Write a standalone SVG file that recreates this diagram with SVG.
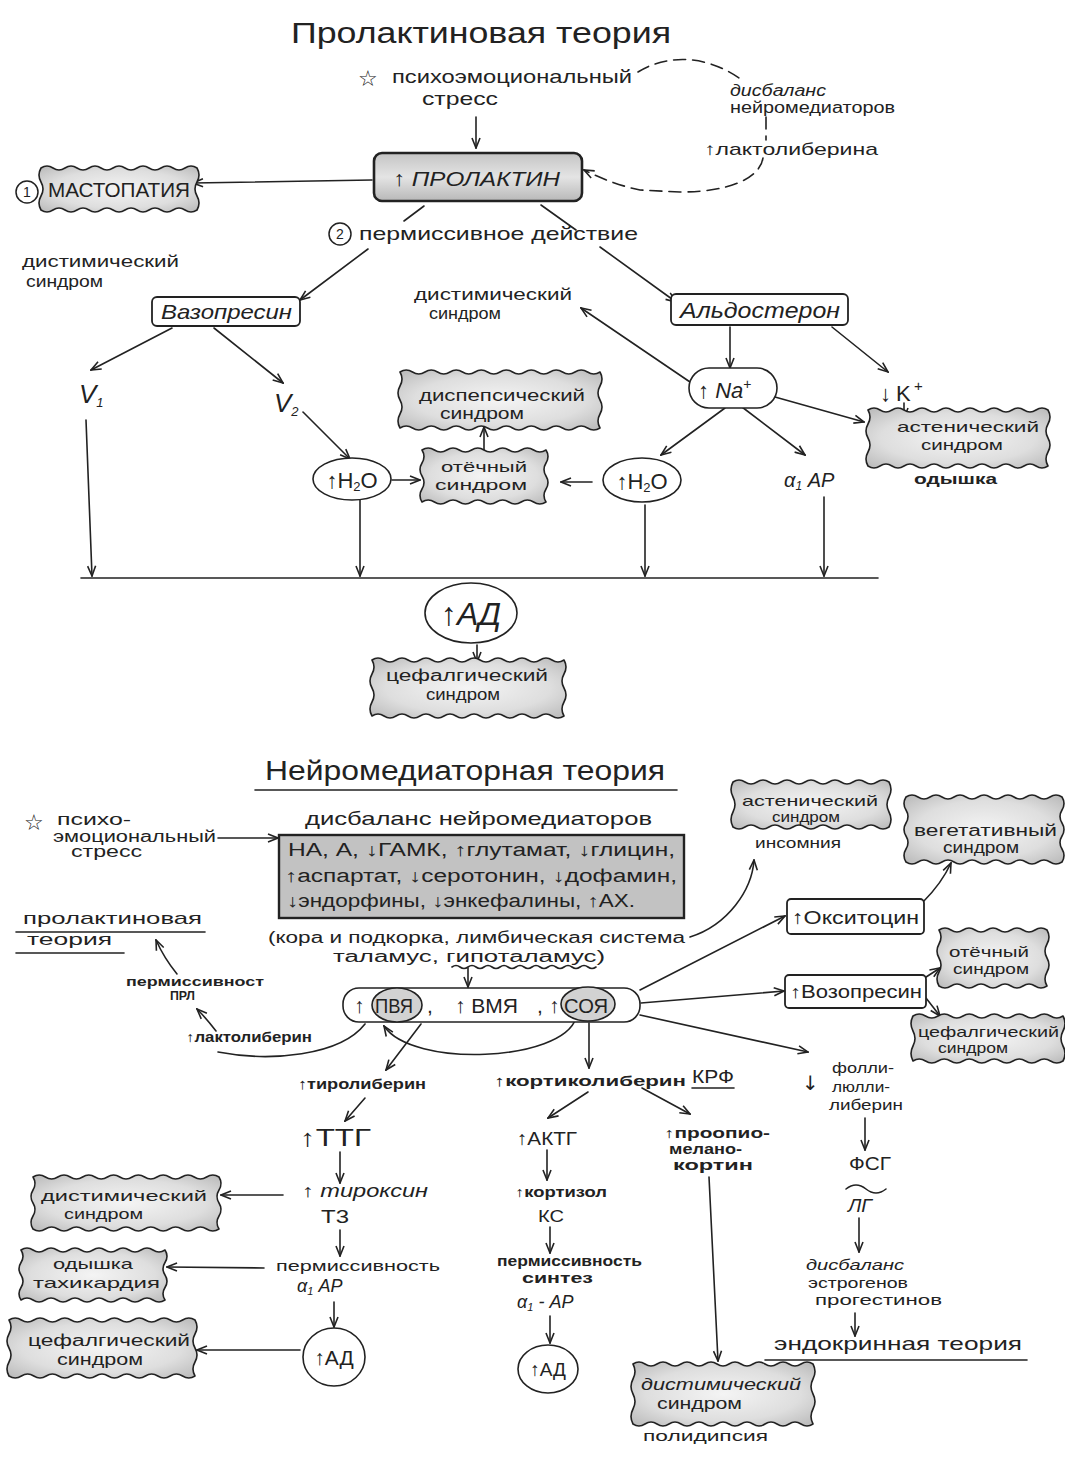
<svg xmlns="http://www.w3.org/2000/svg" width="1065" height="1461" viewBox="0 0 1065 1461">
<defs>
<style>
.t{font-family:"Liberation Sans","DejaVu Sans",sans-serif;fill:#222}
.i{font-style:italic}
.b{font-weight:bold}
.st{font-family:"DejaVu Sans",sans-serif;fill:#222}
.ln{fill:none;stroke:#222;stroke-width:1.6;stroke-linecap:round}
.ar{marker-end:url(#ah)}
.ds{stroke-dasharray:12 7}
.cl{fill:url(#cg);stroke:#222;stroke-width:1.6;stroke-linejoin:round}
.bx{fill:#fff;stroke:#222;stroke-width:1.8}
.ov{fill:#fff;stroke:#222;stroke-width:1.6}
</style>
<radialGradient id="cg" cx="50%" cy="50%" r="70%"><stop offset="0" stop-color="#f4f4f4"/><stop offset="0.6" stop-color="#dedede"/><stop offset="1" stop-color="#b8b8b8"/></radialGradient>
<linearGradient id="pg" x1="0" y1="0" x2="0" y2="1"><stop offset="0" stop-color="#c4c4c4"/><stop offset="0.5" stop-color="#e4e4e4"/><stop offset="1" stop-color="#b8b8b8"/></linearGradient>
<marker id="ah" viewBox="0 0 12 10" refX="11" refY="5" markerWidth="12" markerHeight="10" markerUnits="userSpaceOnUse" orient="auto"><path d="M1,1 L11,5 L1,9" fill="none" stroke="#222" stroke-width="1.6"/></marker>
</defs>
<rect width="1065" height="1461" fill="#fff"/>

<g id="connectors">
<path class="ln ar" d="M476,117 V148"/>
<path class="ln ds" d="M638,72 C660,58 700,50 742,80"/>
<path class="ln ds" d="M766,117 V140"/>
<path class="ln ds ar" d="M763,158 C760,178 730,192 680,192 L640,190 C620,186 600,178 584,170"/>
<path class="ln ar" d="M372,180 L193,183"/>
<path class="ln" d="M424,206 L404,221"/>
<path class="ln ar" d="M368,249 L300,300"/>
<path class="ln" d="M541,205 L576,230"/>
<path class="ln ar" d="M600,247 L676,302"/>
<path class="ln ar" d="M172,328 L91,370"/>
<path class="ln ar" d="M214,328 L283,383"/>
<path class="ln ar" d="M303,412 L350,459"/>
<path class="ln ar" d="M392,480 L420,480"/>
<path class="ln ar" d="M484,455 V427"/>
<path class="ln ar" d="M592,482 L561,482"/>
<path class="ln ar" d="M730,327 V368"/>
<path class="ln ar" d="M832,327 L888,372"/>
<path class="ln ar" d="M690,382 L581,308"/>
<path class="ln ar" d="M775,397 L864,422"/>
<path class="ln ar" d="M725,408 L661,455"/>
<path class="ln ar" d="M742,407 L805,455"/>
<path class="ln ar" d="M904,403 V418"/>
<path class="ln ar" d="M86,420 L92,576"/>
<path class="ln ar" d="M360,500 V576"/>
<path class="ln ar" d="M645,505 V576"/>
<path class="ln ar" d="M824,497 V576"/>
<path class="ln" d="M81,578 H878"/>
<path class="ln ar" d="M477,645 V662"/>
<path class="ln ar" d="M218,838 H278"/>
<path class="ln ar" d="M468,968 V987"/>
<path class="ln ar" d="M690,937 C728,925 752,890 754,860"/>
<path class="ln ar" d="M640,990 L785,916"/>
<path class="ln ar" d="M641,1003 L784,991"/>
<path class="ln ar" d="M640,1015 L808,1052"/>
<path class="ln ar" d="M923,902 C935,890 945,876 951,863"/>
<path class="ln ar" d="M923,979 L940,968"/>
<path class="ln ar" d="M926,998 L940,1016"/>
<path class="ln ar" d="M421,1024 L386,1070"/>
<path class="ln ar" d="M589,1023 V1068"/>
<path class="ln ar" d="M576,1018 C562,1062 412,1068 384,1026"/>
<path class="ln" d="M365,1024 C340,1056 270,1062 218,1052"/>
<path class="ln ar" d="M216,1031 Q206,1018 197,1009"/>
<path class="ln ar" d="M177,974 Q164,958 156,940"/>
<path class="ln ar" d="M365,1098 L345,1121"/>
<path class="ln ar" d="M340,1152 V1183"/>
<path class="ln ar" d="M340,1230 V1256"/>
<path class="ln ar" d="M334,1302 V1327"/>
<path class="ln ar" d="M283,1195 H221"/>
<path class="ln ar" d="M264,1268 L167,1267"/>
<path class="ln ar" d="M300,1350 H197"/>
<path class="ln ar" d="M588,1092 L548,1118"/>
<path class="ln ar" d="M642,1088 L690,1114"/>
<path class="ln ar" d="M547,1150 V1180"/>
<path class="ln ar" d="M550,1227 V1253"/>
<path class="ln ar" d="M550,1316 V1343"/>
<path class="ln ar" d="M709,1177 L718,1361"/>
<path class="ln ar" d="M865,1118 V1150"/>
<path class="ln ar" d="M859,1218 V1252"/>
<path class="ln ar" d="M855,1313 V1336"/>
</g>

<g id="titles">
<text class="t" x="291" y="43" font-size="30" textLength="380" lengthAdjust="spacingAndGlyphs">Пролактиновая теория</text>
<text class="t" x="265" y="780" font-size="27" textLength="400" lengthAdjust="spacingAndGlyphs">Нейромедиаторная теория</text>
<path class="ln" d="M255,790 H677"/>
</g>

<g id="stress-top">
<text class="st" x="358" y="86" font-size="22">☆</text>
<text class="t" x="392" y="83" font-size="19" textLength="240" lengthAdjust="spacingAndGlyphs">психоэмоциональный</text>
<text class="t" x="422" y="105" font-size="19" textLength="76" lengthAdjust="spacingAndGlyphs">стресс</text>
</g>

<g id="disbalance-top">
<text class="t i" x="730" y="96" font-size="16" textLength="96" lengthAdjust="spacingAndGlyphs">дисбаланс</text>
<text class="t" x="730" y="113" font-size="16" textLength="165" lengthAdjust="spacingAndGlyphs">нейромедиаторов</text>
</g>

<g id="lactoliberin-top">
<text class="t" x="704" y="155" font-size="17" textLength="174" lengthAdjust="spacingAndGlyphs">↑лактолиберина</text>
</g>

<g id="prolactin">
<rect x="374" y="153" width="208" height="48" rx="8" fill="url(#pg)" stroke="#222" stroke-width="2.6"/>
<text class="t i" x="393" y="186" font-size="21" textLength="167" lengthAdjust="spacingAndGlyphs">↑ ПРОЛАКТИН</text>
</g>

<g id="mastopathy">
<circle cx="27" cy="192" r="11" fill="#fff" stroke="#222" stroke-width="1.5"/>
<text class="t" x="27" y="197" font-size="14" text-anchor="middle">1</text>
<path class="cl" d="M41,168q6,-4 12,0t12,0 12,0 12,0 12,0 12,0 12,0 12,0 12,0 12,0 12,0 12,0 12,0q4,7 0,14t0,14 0,14q-6,4 -12,0t-12,0 -12,0 -12,0 -12,0 -12,0 -12,0 -12,0 -12,0 -12,0 -12,0 -12,0 -12,0q-4,-7 0,-14t0,-14 0,-14z"/>
<text class="t" x="48" y="197" font-size="20" textLength="142" lengthAdjust="spacingAndGlyphs">МАСТОПАТИЯ</text>
</g>

<g id="permissive-label">
<circle cx="340" cy="234" r="11" fill="#fff" stroke="#222" stroke-width="1.5"/>
<text class="t" x="340" y="239" font-size="14" text-anchor="middle">2</text>
<text class="t" x="359" y="240" font-size="19" textLength="279" lengthAdjust="spacingAndGlyphs">пермиссивное действие</text>
</g>

<g id="dysthymic-left">
<text class="t" x="22" y="267" font-size="16" textLength="157" lengthAdjust="spacingAndGlyphs">дистимический</text>
<text class="t" x="26" y="287" font-size="16" textLength="77" lengthAdjust="spacingAndGlyphs">синдром</text>
</g>

<g id="vasopressin">
<rect class="bx" x="152" y="297" width="148" height="29" rx="5"/>
<text class="t i" x="161" y="319" font-size="21" textLength="131" lengthAdjust="spacingAndGlyphs">Вазопресин</text>
</g>

<g id="dysthymic-mid">
<text class="t" x="414" y="300" font-size="16" textLength="158" lengthAdjust="spacingAndGlyphs">дистимический</text>
<text class="t" x="429" y="319" font-size="16" textLength="72" lengthAdjust="spacingAndGlyphs">синдром</text>
</g>

<g id="aldosterone">
<rect class="bx" x="671" y="294" width="177" height="31" rx="5"/>
<text class="t i" x="680" y="318" font-size="22" textLength="160" lengthAdjust="spacingAndGlyphs">Альдостерон</text>
</g>

<g id="v1">
<text class="t i" x="79" y="403" font-size="26">V<tspan font-size="13" dy="4">1</tspan></text>
</g>
<g id="v2">
<text class="t i" x="274" y="412" font-size="26">V<tspan font-size="13" dy="4">2</tspan></text>
</g>

<g id="na">
<rect class="ov" x="689" y="368" width="88" height="40" rx="20"/>
<text class="t" x="698" y="398" font-size="22">↑ <tspan class="i">Na</tspan><tspan font-size="14" dy="-9">+</tspan></text>
</g>

<g id="k">
<text class="t" x="880" y="401" font-size="22">↓<tspan x="896">K</tspan><tspan x="914" dy="-10" font-size="15">+</tspan></text>
</g>

<g id="dyspeptic">
<path class="cl" d="M400,372q6.25,-4 12.5,0t12.5,0 12.5,0 12.5,0 12.5,0 12.5,0 12.5,0 12.5,0 12.5,0 12.5,0 12.5,0 12.5,0 12.5,0 12.5,0 12.5,0 12.5,0q4,7 0,14t0,14 0,14 0,14q-6.25,4 -12.5,0t-12.5,0 -12.5,0 -12.5,0 -12.5,0 -12.5,0 -12.5,0 -12.5,0 -12.5,0 -12.5,0 -12.5,0 -12.5,0 -12.5,0 -12.5,0 -12.5,0 -12.5,0q-4,-7 0,-14t0,-14 0,-14 0,-14z"/>
<text class="t" x="419" y="401" font-size="16" textLength="166" lengthAdjust="spacingAndGlyphs">диспепсический</text>
<text class="t" x="440" y="419" font-size="16" textLength="84" lengthAdjust="spacingAndGlyphs">синдром</text>
</g>

<g id="edema-top">
<path class="cl" d="M422,450q6.2,-4 12.4,0t12.4,0 12.4,0 12.4,0 12.4,0 12.4,0 12.4,0 12.4,0 12.4,0 12.4,0q4,6.5 0,13t0,13 0,13 0,13q-6.2,4 -12.4,0t-12.4,0 -12.4,0 -12.4,0 -12.4,0 -12.4,0 -12.4,0 -12.4,0 -12.4,0 -12.4,0q-4,-6.5 0,-13t0,-13 0,-13 0,-13z"/>
<text class="t" x="441" y="472" font-size="15" textLength="86" lengthAdjust="spacingAndGlyphs">отёчный</text>
<text class="t" x="435" y="490" font-size="15" textLength="92" lengthAdjust="spacingAndGlyphs">синдром</text>
</g>

<g id="h2o-left">
<ellipse class="ov" cx="352" cy="479" rx="39" ry="21"/>
<text class="t" x="352" y="488" font-size="22" text-anchor="middle">↑H<tspan font-size="13" dy="3">2</tspan><tspan dy="-3">O</tspan></text>
</g>

<g id="h2o-right">
<ellipse class="ov" cx="642" cy="480" rx="39" ry="22"/>
<text class="t" x="642" y="489" font-size="22" text-anchor="middle">↑H<tspan font-size="13" dy="3">2</tspan><tspan dy="-3">O</tspan></text>
</g>

<g id="alpha-top">
<text class="t i" x="784" y="487" font-size="20">α<tspan font-size="12" dy="3">1</tspan><tspan dy="-3"> АР</tspan></text>
</g>

<g id="asthenic-top">
<path class="cl" d="M868,410q6,-4 12,0t12,0 12,0 12,0 12,0 12,0 12,0 12,0 12,0 12,0 12,0 12,0 12,0 12,0 12,0q4,7 0,14t0,14 0,14 0,14q-6,4 -12,0t-12,0 -12,0 -12,0 -12,0 -12,0 -12,0 -12,0 -12,0 -12,0 -12,0 -12,0 -12,0 -12,0 -12,0q-4,-7 0,-14t0,-14 0,-14 0,-14z"/>
<text class="t" x="897" y="432" font-size="15" textLength="142" lengthAdjust="spacingAndGlyphs">астенический</text>
<text class="t" x="921" y="450" font-size="15" textLength="82" lengthAdjust="spacingAndGlyphs">синдром</text>
<text class="t b" x="914" y="484" font-size="15" textLength="83" lengthAdjust="spacingAndGlyphs">одышка</text>
</g>

<g id="ad-top">
<ellipse class="ov" cx="471" cy="613" rx="46" ry="30"/>
<text class="t i" x="471" y="625" font-size="32" text-anchor="middle">↑АД</text>
</g>

<g id="cephalgic-top">
<path class="cl" d="M372,660q6,-4 12,0t12,0 12,0 12,0 12,0 12,0 12,0 12,0 12,0 12,0 12,0 12,0 12,0 12,0 12,0 12,0q4,7 0,14t0,14 0,14 0,14q-6,4 -12,0t-12,0 -12,0 -12,0 -12,0 -12,0 -12,0 -12,0 -12,0 -12,0 -12,0 -12,0 -12,0 -12,0 -12,0 -12,0q-4,-7 0,-14t0,-14 0,-14 0,-14z"/>
<text class="t" x="386" y="681" font-size="16" textLength="162" lengthAdjust="spacingAndGlyphs">цефалгический</text>
<text class="t" x="426" y="700" font-size="16" textLength="74" lengthAdjust="spacingAndGlyphs">синдром</text>
</g>

<g id="disbalance-title">
<text class="t" x="305" y="825" font-size="19" textLength="347" lengthAdjust="spacingAndGlyphs">дисбаланс нейромедиаторов</text>
</g>

<g id="stress-bottom">
<text class="st" x="24" y="830" font-size="22">☆</text>
<text class="t" x="57" y="825" font-size="16" textLength="74" lengthAdjust="spacingAndGlyphs">психо-</text>
<text class="t" x="53" y="842" font-size="16" textLength="163" lengthAdjust="spacingAndGlyphs">эмоциональный</text>
<text class="t" x="71" y="857" font-size="16" textLength="71" lengthAdjust="spacingAndGlyphs">стресс</text>
</g>

<g id="neuromediators">
<rect x="279" y="835" width="405" height="83" fill="#c2c2c2" stroke="#222" stroke-width="2.4"/>
<text class="t" x="288" y="856" font-size="18" textLength="387" lengthAdjust="spacingAndGlyphs">НА, А, ↓ГАМК, ↑глутамат, ↓глицин,</text>
<text class="t" x="285" y="882" font-size="18" textLength="392" lengthAdjust="spacingAndGlyphs">↑аспартат, ↓серотонин, ↓дофамин,</text>
<text class="t" x="287" y="907" font-size="18" textLength="348" lengthAdjust="spacingAndGlyphs">↓эндорфины, ↓энкефалины, ↑АХ.</text>
</g>

<g id="brain-areas">
<text class="t" x="268" y="943" font-size="16" textLength="417" lengthAdjust="spacingAndGlyphs">(кора и подкорка, лимбическая система</text>
<text class="t" x="333" y="962" font-size="16" textLength="272" lengthAdjust="spacingAndGlyphs">таламус, гипоталамус)</text>
<path class="ln" stroke-width="1.2" d="M452,967q4,-3 8,0t8,0 8,0 8,0 8,0 8,0 8,0 8,0 8,0 8,0 8,0 8,0 8,0 8,0 8,0 8,0 8,0 8,0"/>
</g>

<g id="prolactin-theory">
<text class="t" x="23" y="924" font-size="17" textLength="179" lengthAdjust="spacingAndGlyphs">пролактиновая</text>
<path class="ln" d="M16,932 H205"/>
<text class="t" x="27" y="945" font-size="17" textLength="85" lengthAdjust="spacingAndGlyphs">теория</text>
<path class="ln" d="M16,953 H124"/>
</g>

<g id="permissivity-prl">
<text class="t b" x="126" y="986" font-size="13" textLength="138" lengthAdjust="spacingAndGlyphs">пермиссивност</text>
<text class="t b" x="170" y="1000" font-size="13" textLength="25" lengthAdjust="spacingAndGlyphs">ПРЛ</text>
</g>

<g id="lactoliberin-bottom">
<text class="t b" x="186" y="1042" font-size="14" textLength="126" lengthAdjust="spacingAndGlyphs">↑лактолиберин</text>
</g>

<g id="nuclei">
<rect class="ov" x="343" y="988" width="297" height="34" rx="16"/>
<ellipse cx="397" cy="1005" rx="25" ry="17" fill="#d2d2d2" stroke="#222" stroke-width="1.6"/>
<ellipse cx="588" cy="1004" rx="27" ry="17" fill="#d2d2d2" stroke="#222" stroke-width="1.6"/>
<text class="t" x="354" y="1013" font-size="21">↑<tspan x="375" textLength="38" lengthAdjust="spacingAndGlyphs">ПВЯ</tspan><tspan x="427">,</tspan><tspan x="455">↑ ВМЯ</tspan><tspan x="537">,</tspan><tspan x="549">↑</tspan><tspan x="564" textLength="44" lengthAdjust="spacingAndGlyphs">СОЯ</tspan></text>
</g>

<g id="asthenic-bottom">
<path class="cl" d="M733,782q6,-4 12,0t12,0 12,0 12,0 12,0 12,0 12,0 12,0 12,0 12,0 12,0 12,0 12,0q4,7.5 0,15t0,15 0,15q-6,4 -12,0t-12,0 -12,0 -12,0 -12,0 -12,0 -12,0 -12,0 -12,0 -12,0 -12,0 -12,0 -12,0q-4,-7.5 0,-15t0,-15 0,-15z"/>
<text class="t" x="742" y="806" font-size="15" textLength="136" lengthAdjust="spacingAndGlyphs">астенический</text>
<text class="t" x="772" y="822" font-size="15" textLength="68" lengthAdjust="spacingAndGlyphs">синдром</text>
<text class="t" x="755" y="848" font-size="15" textLength="86" lengthAdjust="spacingAndGlyphs">инсомния</text>
</g>

<g id="vegetative">
<path class="cl" d="M906,797q6,-4 12,0t12,0 12,0 12,0 12,0 12,0 12,0 12,0 12,0 12,0 12,0 12,0 12,0q4,6.5 0,13t0,13 0,13 0,13 0,13q-6,4 -12,0t-12,0 -12,0 -12,0 -12,0 -12,0 -12,0 -12,0 -12,0 -12,0 -12,0 -12,0 -12,0q-4,-6.5 0,-13t0,-13 0,-13 0,-13 0,-13z"/>
<text class="t" x="914" y="836" font-size="16" textLength="143" lengthAdjust="spacingAndGlyphs">вегетативный</text>
<text class="t" x="943" y="853" font-size="16" textLength="76" lengthAdjust="spacingAndGlyphs">синдром</text>
</g>

<g id="oxytocin">
<rect class="bx" x="787" y="899" width="137" height="35" rx="4"/>
<text class="t" x="792" y="924" font-size="19" textLength="127" lengthAdjust="spacingAndGlyphs">↑Окситоцин</text>
</g>

<g id="edema-bottom">
<path class="cl" d="M939,930q6,-4 12,0t12,0 12,0 12,0 12,0 12,0 12,0 12,0 12,0q4,7 0,14t0,14 0,14 0,14q-6,4 -12,0t-12,0 -12,0 -12,0 -12,0 -12,0 -12,0 -12,0 -12,0q-4,-7 0,-14t0,-14 0,-14 0,-14z"/>
<text class="t" x="949" y="957" font-size="15" textLength="80" lengthAdjust="spacingAndGlyphs">отёчный</text>
<text class="t" x="953" y="974" font-size="15" textLength="76" lengthAdjust="spacingAndGlyphs">синдром</text>
</g>

<g id="vasopressin-bottom">
<rect class="bx" x="785" y="975" width="141" height="33" rx="4"/>
<text class="t" x="790" y="998" font-size="18" textLength="132" lengthAdjust="spacingAndGlyphs">↑Возопресин</text>
</g>

<g id="cephalgic-right">
<path class="cl" d="M913,1016q6.25,-4 12.5,0t12.5,0 12.5,0 12.5,0 12.5,0 12.5,0 12.5,0 12.5,0 12.5,0 12.5,0 12.5,0 12.5,0q4,7.5 0,15t0,15 0,15q-6.25,4 -12.5,0t-12.5,0 -12.5,0 -12.5,0 -12.5,0 -12.5,0 -12.5,0 -12.5,0 -12.5,0 -12.5,0 -12.5,0 -12.5,0q-4,-7.5 0,-15t0,-15 0,-15z"/>
<text class="t" x="918" y="1037" font-size="15" textLength="141" lengthAdjust="spacingAndGlyphs">цефалгический</text>
<text class="t" x="938" y="1053" font-size="15" textLength="70" lengthAdjust="spacingAndGlyphs">синдром</text>
</g>

<g id="folliliberin">
<text class="st" x="802" y="1090" font-size="20">↓</text>
<text class="t" x="832" y="1073" font-size="15" textLength="62" lengthAdjust="spacingAndGlyphs">фолли-</text>
<text class="t" x="832" y="1092" font-size="15" textLength="58" lengthAdjust="spacingAndGlyphs">люлли-</text>
<text class="t" x="829" y="1110" font-size="15" textLength="74" lengthAdjust="spacingAndGlyphs">либерин</text>
</g>

<g id="fsg-lg">
<text class="t" x="849" y="1170" font-size="19" textLength="42" lengthAdjust="spacingAndGlyphs">ФСГ</text>
<path class="ln" d="M846,1189q10,-8 20,0t20,0"/>
<text class="t i" x="848" y="1212" font-size="19" textLength="24" lengthAdjust="spacingAndGlyphs">ЛГ</text>
</g>

<g id="estrogen">
<text class="t i" x="806" y="1270" font-size="15" textLength="98" lengthAdjust="spacingAndGlyphs">дисбаланс</text>
<text class="t" x="808" y="1288" font-size="15" textLength="100" lengthAdjust="spacingAndGlyphs">эстрогенов</text>
<text class="t" x="815" y="1305" font-size="15" textLength="127" lengthAdjust="spacingAndGlyphs">прогестинов</text>
</g>

<g id="endocrine-theory">
<text class="t" x="774" y="1350" font-size="19" textLength="248" lengthAdjust="spacingAndGlyphs">эндокринная теория</text>
<path class="ln" d="M765,1360 H1027"/>
</g>

<g id="thyroliberin">
<text class="t b" x="298" y="1089" font-size="15" textLength="128" lengthAdjust="spacingAndGlyphs">↑тиролиберин</text>
</g>
<g id="ttg">
<text class="t" x="300" y="1146" font-size="24" textLength="71" lengthAdjust="spacingAndGlyphs">↑ТТГ</text>
</g>
<g id="thyroxine">
<text class="t i" x="302" y="1197" font-size="18" textLength="126" lengthAdjust="spacingAndGlyphs">↑ тироксин</text>
<text class="t" x="321" y="1223" font-size="19" textLength="28" lengthAdjust="spacingAndGlyphs">Т3</text>
</g>
<g id="permissivity-thyro">
<text class="t" x="276" y="1271" font-size="15" textLength="164" lengthAdjust="spacingAndGlyphs">пермиссивность</text>
<text class="t i" x="297" y="1292" font-size="18">α<tspan font-size="11" dy="3">1</tspan><tspan dy="-3"> АР</tspan></text>
</g>
<g id="ad-left">
<ellipse class="ov" cx="334" cy="1357" rx="31" ry="29"/>
<text class="t" x="334" y="1365" font-size="21" text-anchor="middle">↑АД</text>
</g>

<g id="dysthymic-bl">
<path class="cl" d="M33,1177q6.2,-4 12.4,0t12.4,0 12.4,0 12.4,0 12.4,0 12.4,0 12.4,0 12.4,0 12.4,0 12.4,0 12.4,0 12.4,0 12.4,0 12.4,0 12.4,0q4,6.5 0,13t0,13 0,13 0,13q-6.2,4 -12.4,0t-12.4,0 -12.4,0 -12.4,0 -12.4,0 -12.4,0 -12.4,0 -12.4,0 -12.4,0 -12.4,0 -12.4,0 -12.4,0 -12.4,0 -12.4,0 -12.4,0q-4,-6.5 0,-13t0,-13 0,-13 0,-13z"/>
<text class="t" x="41" y="1201" font-size="15" textLength="166" lengthAdjust="spacingAndGlyphs">дистимический</text>
<text class="t" x="64" y="1219" font-size="15" textLength="79" lengthAdjust="spacingAndGlyphs">синдром</text>
</g>

<g id="dyspnea">
<path class="cl" d="M21,1250q6,-4 12,0t12,0 12,0 12,0 12,0 12,0 12,0 12,0 12,0 12,0 12,0 12,0q4,6.25 0,12.5t0,12.5 0,12.5 0,12.5q-6,4 -12,0t-12,0 -12,0 -12,0 -12,0 -12,0 -12,0 -12,0 -12,0 -12,0 -12,0 -12,0q-4,-6.25 0,-12.5t0,-12.5 0,-12.5 0,-12.5z"/>
<text class="t" x="53" y="1269" font-size="15" textLength="80" lengthAdjust="spacingAndGlyphs">одышка</text>
<text class="t" x="33" y="1288" font-size="15" textLength="127" lengthAdjust="spacingAndGlyphs">тахикардия</text>
</g>

<g id="cephalgic-bl">
<path class="cl" d="M9,1320q6.2,-4 12.4,0t12.4,0 12.4,0 12.4,0 12.4,0 12.4,0 12.4,0 12.4,0 12.4,0 12.4,0 12.4,0 12.4,0 12.4,0 12.4,0 12.4,0q4,7 0,14t0,14 0,14 0,14q-6.2,4 -12.4,0t-12.4,0 -12.4,0 -12.4,0 -12.4,0 -12.4,0 -12.4,0 -12.4,0 -12.4,0 -12.4,0 -12.4,0 -12.4,0 -12.4,0 -12.4,0 -12.4,0q-4,-7 0,-14t0,-14 0,-14 0,-14z"/>
<text class="t" x="28" y="1346" font-size="16" textLength="162" lengthAdjust="spacingAndGlyphs">цефалгический</text>
<text class="t" x="57" y="1365" font-size="16" textLength="86" lengthAdjust="spacingAndGlyphs">синдром</text>
</g>

<g id="corticoliberin">
<text class="t b" x="494" y="1086" font-size="15" textLength="192" lengthAdjust="spacingAndGlyphs">↑кортиколиберин</text>
<text class="t" x="692" y="1083" font-size="19" textLength="42" lengthAdjust="spacingAndGlyphs">КРФ</text>
<path class="ln" stroke-width="1.2" d="M692,1088 H734"/>
</g>
<g id="actg">
<text class="t" x="517" y="1145" font-size="19" textLength="60" lengthAdjust="spacingAndGlyphs">↑АКТГ</text>
</g>
<g id="cortisol">
<text class="t b" x="515" y="1197" font-size="14" textLength="92" lengthAdjust="spacingAndGlyphs">↑кортизол</text>
<text class="t" x="538" y="1222" font-size="17" textLength="26" lengthAdjust="spacingAndGlyphs">КС</text>
</g>
<g id="permissivity-cort">
<text class="t b" x="497" y="1266" font-size="14" textLength="145" lengthAdjust="spacingAndGlyphs">пермиссивность</text>
<text class="t b" x="522" y="1283" font-size="14" textLength="71" lengthAdjust="spacingAndGlyphs">синтез</text>
<text class="t i" x="517" y="1308" font-size="18">α<tspan font-size="11" dy="3">1</tspan><tspan dy="-3"> - АР</tspan></text>
</g>
<g id="ad-mid">
<ellipse class="ov" cx="548" cy="1369" rx="30" ry="24"/>
<text class="t" x="548" y="1376" font-size="19" text-anchor="middle">↑АД</text>
</g>

<g id="proopiomelanocortin">
<text class="t b" x="664" y="1138" font-size="14" textLength="106" lengthAdjust="spacingAndGlyphs">↑проопио-</text>
<text class="t b" x="669" y="1154" font-size="14" textLength="73" lengthAdjust="spacingAndGlyphs">мелано-</text>
<text class="t b" x="673" y="1170" font-size="14" textLength="80" lengthAdjust="spacingAndGlyphs">кортин</text>
</g>

<g id="dysthymic-bottom">
<path class="cl" d="M633,1364q6,-4 12,0t12,0 12,0 12,0 12,0 12,0 12,0 12,0 12,0 12,0 12,0 12,0 12,0 12,0 12,0q4,7.5 0,15t0,15 0,15 0,15q-6,4 -12,0t-12,0 -12,0 -12,0 -12,0 -12,0 -12,0 -12,0 -12,0 -12,0 -12,0 -12,0 -12,0 -12,0 -12,0q-4,-7.5 0,-15t0,-15 0,-15 0,-15z"/>
<text class="t i" x="641" y="1390" font-size="16" textLength="160" lengthAdjust="spacingAndGlyphs">дистимический</text>
<text class="t" x="657" y="1409" font-size="16" textLength="85" lengthAdjust="spacingAndGlyphs">синдром</text>
<text class="t" x="643" y="1441" font-size="15" textLength="125" lengthAdjust="spacingAndGlyphs">полидипсия</text>
</g>
</svg>
